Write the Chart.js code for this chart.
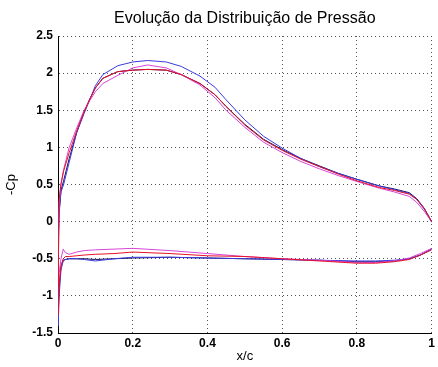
<!DOCTYPE html>
<html>
<head>
<meta charset="utf-8">
<script src="https://cdn.jsdelivr.net/npm/chart.js@4/dist/chart.umd.min.js"></script>
<style>
  html, body { margin: 0; padding: 0; background: #fff; }
  #wrap { width: 438px; height: 367px; }
</style>
</head>
<body>
<div id="wrap"><canvas id="cpChart"></canvas></div>
<script>
// stations along the chord, upper surface (TE -> LE) and lower surface (LE -> TE)
const xUpper = [1.0, 0.98, 0.96, 0.94, 0.9, 0.86, 0.8, 0.75, 0.7, 0.65, 0.6, 0.55, 0.5, 0.45, 0.42, 0.38,
                0.33, 0.29, 0.24, 0.2, 0.16, 0.12, 0.1, 0.085, 0.07, 0.05, 0.03, 0.015, 0.008, 0.003, 0.001, 0];
const xLower = [0.001, 0.003, 0.008, 0.014, 0.02, 0.03, 0.05, 0.07, 0.1, 0.15, 0.2, 0.3, 0.4, 0.5, 0.6,
                0.7, 0.8, 0.85, 0.9, 0.94, 0.97, 1.0];

// -Cp values
const blueUpper = [-0.01, 0.17, 0.3, 0.38, 0.43, 0.48, 0.57, 0.65, 0.74, 0.85, 0.99, 1.15, 1.37, 1.64, 1.81, 1.96,
                   2.09, 2.15, 2.17, 2.15, 2.1, 1.98, 1.83, 1.64, 1.46, 1.2, 0.8, 0.5, 0.4, 0.15, -0.18, -0.8];
const blueLower = [-1.4, -1.0, -0.65, -0.53, -0.51, -0.5, -0.5, -0.51, -0.53, -0.5, -0.48, -0.48, -0.49, -0.5,
                   -0.51, -0.52, -0.53, -0.53, -0.52, -0.5, -0.45, -0.37];

const redUpper = [0.0, 0.18, 0.3, 0.37, 0.42, 0.46, 0.55, 0.64, 0.74, 0.84, 0.96, 1.1, 1.3, 1.55, 1.71, 1.86,
                  1.98, 2.04, 2.05, 2.04, 2.02, 1.93, 1.8, 1.65, 1.48, 1.22, 0.93, 0.68, 0.51, 0.3, -0.2, -1.0];
const redLower = [-1.25, -0.85, -0.6, -0.5, -0.47, -0.47, -0.46, -0.45, -0.44, -0.43, -0.41, -0.43, -0.46, -0.47,
                  -0.5, -0.53, -0.56, -0.56, -0.54, -0.51, -0.45, -0.38];

const magentaUpper = [0.0, 0.14, 0.26, 0.34, 0.4, 0.45, 0.54, 0.62, 0.71, 0.81, 0.93, 1.07, 1.27, 1.5, 1.67, 1.84,
                      1.98, 2.07, 2.11, 2.07, 1.97, 1.86, 1.75, 1.63, 1.5, 1.26, 1.0, 0.7, 0.5, 0.25, -0.3, -0.97];
const magentaLower = [-0.9, -0.7, -0.5, -0.37, -0.42, -0.44, -0.41, -0.39, -0.38, -0.37, -0.36, -0.39, -0.43, -0.47,
                      -0.5, -0.52, -0.55, -0.55, -0.53, -0.49, -0.43, -0.36];

const blackUpper = [0.0, 0.18, 0.31, 0.39, 0.44, 0.48, 0.57, 0.65, 0.75, 0.85, 0.97, 1.11, 1.31, 1.55, 1.71, 1.86,
                    1.98, 2.04, 2.05, 2.04, 2.02, 1.93, 1.8, 1.65, 1.48, 1.2, 0.85, 0.55, 0.42, 0.1, -0.5, -1.2];
const blackLower = [-1.3, -0.9, -0.6, -0.52, -0.51, -0.5, -0.5, -0.5, -0.51, -0.5, -0.49, -0.48, -0.49, -0.5,
                    -0.51, -0.52, -0.54, -0.54, -0.53, -0.5, -0.45, -0.37];

const xTicks = [0, 0.2, 0.4, 0.6, 0.8, 1];
const yTicks = [-1.5, -1, -0.5, 0, 0.5, 1, 1.5, 2, 2.5];

function loop(upper, lower) {
    const pts = xUpper.map((x, i) => ({ x: x, y: upper[i] }));
    return pts.concat(xLower.map((x, i) => ({ x: x, y: lower[i] })));
}

function series(label, color, upper, lower) {
    return {
        label: label,
        data: loop(upper, lower),
        showLine: true,
        borderColor: color,
        borderWidth: 1,
        pointRadius: 0,
        fill: false,
        tension: 0
    };
}

const FONT = "'Liberation Sans', Arial, sans-serif";

// title centred over the plot area, like matlab does it
const titlePlugin = {
    id: 'plotTitle',
    afterDraw(chart) {
        const { ctx, chartArea } = chart;
        ctx.save();
        ctx.font = '16px ' + FONT;
        ctx.fillStyle = '#000';
        ctx.textAlign = 'center';
        ctx.textBaseline = 'middle';
        ctx.fillText('Evolução da Distribuição de Pressão', (chartArea.left + chartArea.right) / 2, 19);
        ctx.restore();
    }
};

// grid lines take their dash from border.dash in v4, the axis line itself stays solid
const gridStyle = { color: '#555', lineWidth: 1, drawTicks: false };
const borderStyle = { display: true, color: '#000', width: 1, dash: [1, 3] };

new Chart(document.getElementById('cpChart'), {
    type: 'scatter',
    data: {
        datasets: [
            series('red', '#e8102a', redUpper, redLower),
            series('magenta', '#d845d8', magentaUpper, magentaLower),
            series('blue', '#3a3ae0', blueUpper, blueLower),
            series('black', '#141450', blackUpper, blackLower)
        ]
    },
    options: {
        responsive: true,
        maintainAspectRatio: false,
        animation: false,
        layout: { padding: { top: 36, right: 3, left: 0, bottom: 0 } },
        plugins: {
            legend: { display: false },
            tooltip: { enabled: false }
        },
        scales: {
            x: {
                type: 'linear',
                min: 0,
                max: 1,
                afterBuildTicks: (scale) => { scale.ticks = xTicks.map(v => ({ value: v })); },
                afterFit: (scale) => { scale.height = 34; },
                ticks: {
                    padding: 3,
                    color: '#000',
                    font: { family: FONT, size: 12, weight: 'bold' },
                    callback: (v) => String(Math.round(v * 10) / 10)
                },
                grid: gridStyle,
                border: borderStyle,
                title: {
                    display: true,
                    text: 'x/c',
                    color: '#000',
                    font: { family: FONT, size: 13 },
                    padding: { top: 0, bottom: 3 }
                }
            },
            y: {
                type: 'linear',
                min: -1.5,
                max: 2.5,
                afterBuildTicks: (scale) => { scale.ticks = yTicks.map(v => ({ value: v })); },
                afterFit: (scale) => { scale.width = 58; },
                ticks: {
                    padding: 5,
                    color: '#000',
                    font: { family: FONT, size: 12, weight: 'bold' },
                    callback: (v) => String(Math.round(v * 10) / 10)
                },
                grid: gridStyle,
                border: borderStyle,
                title: {
                    display: true,
                    text: '-Cp',
                    color: '#000',
                    font: { family: FONT, size: 13 },
                    padding: { top: 4, bottom: 0 }
                }
            }
        }
    },
    plugins: [titlePlugin]
});
</script>
</body>
</html>
